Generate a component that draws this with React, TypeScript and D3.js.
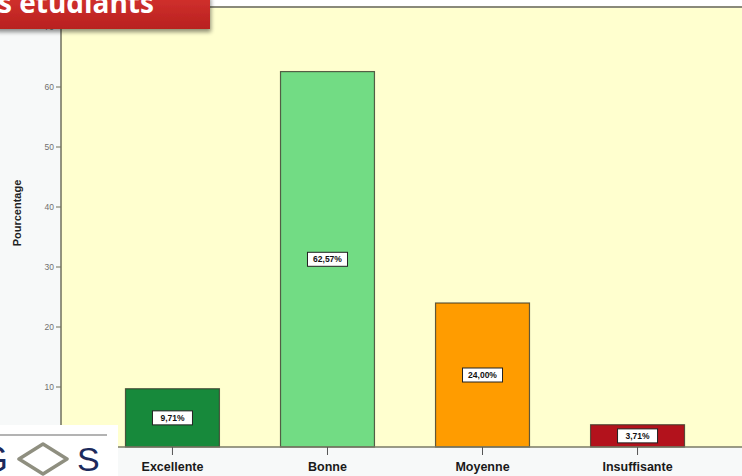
import React from "react";
import * as d3 from "d3";

const categories = ["Excellente", "Bonne", "Moyenne", "Insuffisante"];
const values = [9.71, 62.57, 24.0, 3.71];
const valueLabels = ["9,71%", "62,57%", "24,00%", "3,71%"];
const yTicks = [10, 20, 30, 40, 50, 60, 70];
const barColors = ["#17893b", "#72dc84", "#ff9c00", "#b3121c"];

const W = 742;
const H = 476;

export default function App() {
  const x = d3
    .scaleBand<string>()
    .domain(categories)
    .range([61, 749])
    .paddingInner(0.394)
    .paddingOuter(0.416);
  const y = d3.scaleLinear().domain([0, 70]).range([447, 27]);
  const bw = x.bandwidth();

  return (
    <svg
      width={W}
      height={H}
      style={{ position: "absolute", left: 0, top: 0, display: "block" }}
      fontFamily="Liberation Sans, Arial, sans-serif"
    >
      <defs>
        <linearGradient id="titleGrad" x1="0" y1="0" x2="0" y2="1">
          <stop offset="0" stopColor="#d3322e" />
          <stop offset="1" stopColor="#b8201f" />
        </linearGradient>
        <filter id="shadow" x="-10%" y="-30%" width="130%" height="180%">
          <feGaussianBlur in="SourceAlpha" stdDeviation="2" />
          <feOffset dx="1" dy="3" result="b" />
          <feComponentTransfer>
            <feFuncA type="linear" slope="0.45" />
          </feComponentTransfer>
          <feMerge>
            <feMergeNode />
            <feMergeNode in="SourceGraphic" />
          </feMerge>
        </filter>
      </defs>
      {/* page background */}
      <rect x={0} y={0} width={W} height={H} fill="#f7f9f9" />
      <rect x={0} y={0} width={W} height={7} fill="#ffffff" />
      {/* plot background */}
      <rect x={61} y={7} width={W - 61} height={440} fill="#ffffcf" />
      {/* top border */}
      <line x1={0} x2={W} y1={7} y2={7} stroke="#8a8a7a" strokeWidth={2} />
      {/* y axis */}
      <line x1={61} x2={61} y1={7} y2={447} stroke="#6f6f5c" strokeWidth={1.5} />
      {yTicks.map((t) => (
        <g key={t} transform={`translate(0,${y(t)})`}>
          <line x1={56} x2={61} stroke="#6f6f5c" strokeWidth={1} />
          <text
            x={54}
            dy="0.35em"
            textAnchor="end"
            fontSize={8.5}
            fill="#707070"
          >
            {t}
          </text>
        </g>
      ))}
      <text
        transform={`translate(21,213) rotate(-90)`}
        textAnchor="middle"
        fontSize={11}
        fontWeight="bold"
        fill="#222"
      >
        Pourcentage
      </text>
      {/* bars */}
      {categories.map((c, i) => (
        <rect
          key={c}
          x={x(c)}
          y={y(values[i])}
          width={bw}
          height={y(0) - y(values[i])}
          fill={barColors[i]}
          stroke="#3a3a2a"
          strokeOpacity={0.8}
          strokeWidth={1.2}
        />
      ))}
      {/* value labels */}
      {categories.map((c, i) => {
        const cx = (x(c) as number) + bw / 2;
        const cy = (y(values[i]) + y(0)) / 2;
        return (
          <g key={c} transform={`translate(${cx},${cy})`}>
            <rect
              x={-20}
              y={-7}
              width={40}
              height={14}
              fill="#ffffff"
              stroke="#222"
              strokeWidth={1}
            />
            <text
              textAnchor="middle"
              dy="0.35em"
              fontSize={8.5}
              fontWeight="bold"
              fill="#111"
            >
              {valueLabels[i]}
            </text>
          </g>
        );
      })}
      {/* x axis */}
      <line x1={61} x2={W} y1={447} y2={447} stroke="#7a7a66" strokeWidth={1.5} />
      {categories.map((c) => {
        const cx = (x(c) as number) + bw / 2;
        return (
          <g key={c} transform={`translate(${cx},0)`}>
            <line y1={447} y2={455} stroke="#555" strokeWidth={1} />
            <text
              y={471}
              textAnchor="middle"
              fontSize={12.5}
              fontWeight="bold"
              fill="#1a1a1a"
            >
              {c}
            </text>
          </g>
        );
      })}
      {/* logo */}
      <rect x={0} y={425} width={118} height={51} fill="#ffffff" />
      <line x1={0} x2={107} y1={435} y2={435} stroke="#9a9a9a" strokeWidth={1.5} />
      <text x={-20} y={472} fontSize={36} fill="#1c2a5c" fontFamily="Liberation Sans, Arial, sans-serif">
        G
      </text>
      <polygon
        points="19,459 43,444 67,459 43,474"
        fill="none"
        stroke="#8f8f80"
        strokeWidth={3.5}
        strokeLinejoin="round"
      />
      <text x={77} y={471} fontSize={34} fill="#1c2a5c" fontFamily="Liberation Sans, Arial, sans-serif">
        S
      </text>
      {/* title box */}
      <g filter="url(#shadow)">
        <rect x={-5} y={-5} width={215} height={34} fill="url(#titleGrad)" />
      </g>
      <text
        x={-2}
        y={13}
        fontSize={28}
        fontWeight="bold"
        fill="#ffffff"
        fontFamily="Open Sans, Liberation Sans, sans-serif"
      >
        s étudiants
      </text>
    </svg>
  );
}
